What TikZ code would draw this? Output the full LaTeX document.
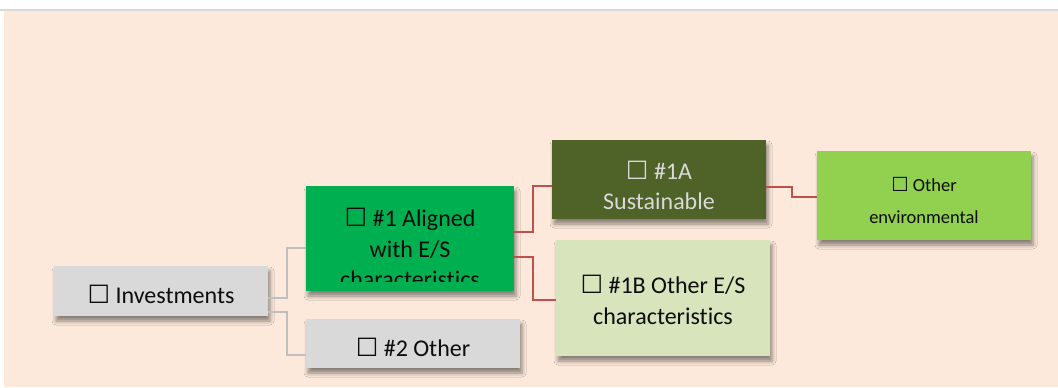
\documentclass[tikz,border=0pt]{standalone}
\usepackage{graphicx}
\usepackage{fontspec}
\setmainfont{Carlito}[Ligatures={NoCommon}]
\newfontfamily\symfont{DejaVu Sans}
\usetikzlibrary{shadows.blur}
\definecolor{peach}{HTML}{FCE9DB}
\definecolor{topline}{HTML}{D9D9D9}
\definecolor{boxgray}{HTML}{D9D9D9}
\definecolor{aligngreen}{HTML}{00B050}
\definecolor{sustgreen}{HTML}{4F6228}
\definecolor{othergreen}{HTML}{D7E4BC}
\definecolor{envgreen}{HTML}{92D050}
\definecolor{linegray}{HTML}{BFBFBF}
\definecolor{linered}{HTML}{C0504D}
\definecolor{txtdark}{HTML}{0D0D0D}
\definecolor{txtlight}{HTML}{D9D9D9}
\newcommand{\bx}{{\symfont\scalebox{1.05}{☐}}}
\tikzset{
  box/.style={rectangle, inner sep=0pt, draw=none,
    blur shadow={shadow xshift=2pt, shadow yshift=-5pt, shadow blur radius=4pt, shadow opacity=45}},
  txt/.style={align=center, inner sep=0pt, text=txtdark,
    font=\fontsize{24pt}{30.5pt}\selectfont},
  smalltxt/.style={align=center, inner sep=0pt, text=txtdark,
    font=\fontsize{18.5pt}{32pt}\selectfont},
  grayline/.style={draw=linegray, line width=1.6pt},
  redline/.style={draw=linered, line width=1.6pt}
}
\begin{document}
\begin{tikzpicture}[x=1pt,y=-1pt]
\useasboundingbox (0,0) rectangle (1058,388);
\fill[white] (0,0) rectangle (1058,388);
\fill[peach] (4,11) rectangle (1058,387);
\fill[topline] (0,9) rectangle (1058,11);

\node[box, fill=boxgray, minimum width=214pt, minimum height=50pt] (inv) at (161,291) {};
\node[box, fill=aligngreen, minimum width=208pt, minimum height=105pt] (a1) at (410,238.5) {};
\node[box, fill=boxgray, minimum width=214pt, minimum height=49pt] (o2) at (413,343.5) {};
\node[box, fill=sustgreen, minimum width=214pt, minimum height=79pt] (s1a) at (659,179.5) {};
\node[box, fill=othergreen, minimum width=214pt, minimum height=116pt] (b1) at (663,298) {};
\node[box, fill=envgreen, minimum width=214pt, minimum height=89pt] (env) at (924,195.5) {};

\draw[grayline] ([yshift=-7pt]inv.east) -- ++(19,0) |- ([yshift=-9.5pt]a1.west);
\draw[grayline] ([yshift=-21pt]inv.east) -- ++(19,0) |- ([yshift=-11.5pt]o2.west);
\draw[redline] ([yshift=6.5pt]a1.east) -- ++(19,0) |- ([yshift=-6.5pt]s1a.west);
\draw[redline] ([yshift=-18.5pt]a1.east) -- ++(19,0) |- ([yshift=-2pt]b1.west);
\draw[redline] ([yshift=-7.5pt]s1a.east) -- ++(26,0) |- ([yshift=-1.5pt]env.west);

\node[txt] (invT) at (inv) [yshift=-3pt] {\bx\ Investments};
\begin{scope}
  \clip (306,186) rectangle (514,281);
  \node[txt] (a1T) at (410,248) {\bx\ \#1 Aligned\\with E/S\\characteristics};
\end{scope}
\node[txt] (o2T) at (o2) [yshift=-4pt] {\bx\ \#2 Other};
\node[txt, text=txtlight] (s1aT) at (s1a) [yshift=-6pt] {\bx\ \#1A\\Sustainable};
\node[txt] (b1T) at (b1) [yshift=-2pt] {\bx\ \#1B Other E/S\\characteristics};
\node[smalltxt] (envT) at (env) [yshift=-4.5pt] {\bx\ Other\\environmental};
\end{tikzpicture}
\end{document}
